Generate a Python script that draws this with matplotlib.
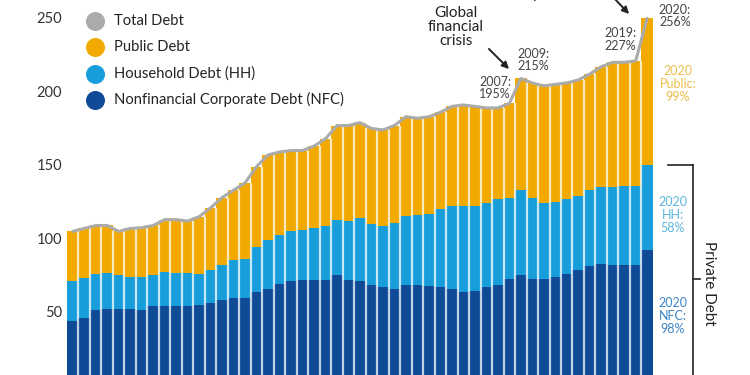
import numpy as np
import matplotlib
matplotlib.use("Agg")
import matplotlib.pyplot as plt

plt.rcParams['font.family'] = ['Lato', 'DejaVu Sans']

years = list(range(1970, 2021))

# debt as % of GDP
nfc = [50, 52, 57.5, 58.5, 58.5, 58.5, 57.5, 60, 60, 60,
       60, 61, 62, 64, 65.5, 66, 69.5, 72, 75.5, 77.5,
       78, 78, 78, 81, 78, 77, 74.5, 73.5, 72, 74.5,
       74.5, 74, 73.5, 72, 70, 70.5, 73.5, 74.5, 78.5, 81,
       78.5, 78.5, 80, 82, 84.5, 87.5, 89, 88, 88, 88, 98]
household = [27, 27, 24.5, 24, 22.5, 21.5, 22.5, 21.5, 23.5, 23,
             22.5, 21, 23, 24, 26, 26.5, 31, 33, 33, 33.5,
             34, 35, 36.5, 38, 40, 43, 41.5, 41, 44.5, 47,
             47.5, 49, 52.5, 56, 58, 57.5, 56.5, 58.5, 55.5, 58,
             55, 52, 51, 51, 50.5, 51.5, 52.5, 53.5, 54, 54, 58]
public = [34, 34, 33, 32.5, 30, 33, 33.5, 33.5, 35.5, 36,
          35.5, 39, 42, 46, 47.5, 51.5, 54.5, 58, 56.5, 55,
          54, 56, 59.5, 64, 65, 65, 65, 65.5, 66.5, 67.5,
          66, 66, 66, 68, 69, 68, 65, 62, 64, 76,
          78.5, 79.5, 80, 79, 79, 79, 81.5, 84.5, 84, 85, 100]
y_ticks = [50, 100, 150, 200, 250]

c_nfc = '#0E4A96'
c_hh = '#189DDB'
c_pub = '#F2A900'
c_tot = '#ABABAB'

nfc = np.array(nfc)
household = np.array(household)
public = np.array(public)
total = nfc + household + public
x = np.arange(len(years))

fig = plt.figure(figsize=(7.5, 3.75), dpi=100)
ax = fig.add_axes([0, 0, 1, 1])

ax.bar(x, nfc, width=1.0, color=c_nfc, linewidth=0)
ax.bar(x, household, width=1.0, bottom=nfc, color=c_hh, linewidth=0)
ax.bar(x, public, width=1.0, bottom=nfc + household, color=c_pub, linewidth=0)

# pale separators between bars
sep_top = np.minimum(total[:-1], total[1:])
ax.vlines(x[:-1] + 0.5, 0, sep_top, color='white', alpha=0.75, lw=1.6)

ax.plot(x, total, color=c_tot, lw=2.2, solid_capstyle='round')

ax.set_xlim(-6.33, 58.95)
ax.set_ylim(13.3, 268.4)
ax.axis('off')

for v in y_ticks:
    ax.text(-0.93, v + 5.3, str(v), ha='right', va='center', fontsize=10.5, color='#333333')


def px(xp, yp):
    return (xp / 750, 1 - yp / 375)


# legend
legend_items = [('Total Debt', c_tot), ('Public Debt', c_pub),
                ('Household Debt (HH)', c_hh), ('Nonfinancial Corporate Debt (NFC)', c_nfc)]
for k, (name, col) in enumerate(legend_items):
    yy = 21 + k * 26.3
    ax.scatter(*px(95, yy), s=160, color=col, transform=ax.transAxes, clip_on=False, zorder=5)
    ax.text(*px(114, yy), name, transform=ax.transAxes, ha='left', va='center',
            fontsize=10.6, color='#222222')

# point labels
lab_kw = dict(textcoords='offset points', ha='center', va='center', fontsize=9,
              color='#444444', linespacing=1.05)
ax.annotate('2007:\n195%', xy=(37, total[37]), xytext=(-2, 14.4), **lab_kw)
ax.annotate('2009:\n215%', xy=(39, total[39]), xytext=(8.8, 13.3), **lab_kw)
ax.annotate('2019:\n227%', xy=(49, total[49]), xytext=(-11.3, 15.4), **lab_kw)
ax.annotate('2020:\n256%', xy=(50, total[50]), xytext=(20, 1.7), **lab_kw)

ax.text(*px(456, 27), 'Global\nfinancial\ncrisis', transform=ax.transAxes, ha='center',
        va='center', fontsize=11, color='#222222', linespacing=1.0)
ax.annotate('', xy=px(511, 71), xytext=px(487, 47), xycoords='axes fraction',
            textcoords='axes fraction',
            arrowprops=dict(arrowstyle='-|>', color='#222222', lw=1.4, mutation_scale=10))
ax.text(*px(565, 1), 'COVID-19\npandemic', transform=ax.transAxes, ha='center',
        va='bottom', fontsize=11, color='#222222', linespacing=1.0)
ax.annotate('', xy=px(631, 16), xytext=px(612, -4), xycoords='axes fraction',
            textcoords='axes fraction',
            arrowprops=dict(arrowstyle='-|>', color='#222222', lw=1.4, mutation_scale=10))

# 2020 breakdown
ax.text(*px(678, 84), '2020\nPublic:\n99%', transform=ax.transAxes, ha='center', va='center',
        fontsize=9, color='#EDBE4C', linespacing=1.1)
ax.text(*px(673, 215), '2020\nHH:\n58%', transform=ax.transAxes, ha='center', va='center',
        fontsize=9, color='#5DB6DC', linespacing=1.1)
ax.text(*px(673, 316), '2020\nNFC:\n98%', transform=ax.transAxes, ha='center', va='center',
        fontsize=9, color='#3C85C6', linespacing=1.1)

# private debt bracket
bx, by = px(693, 165)
ax.plot([px(668, 0)[0], bx], [by, by], color='#222222', lw=1.2, transform=ax.transAxes,
        clip_on=False)
ax.plot([bx, bx], [by, px(0, 380)[1]], color='#222222', lw=1.2, transform=ax.transAxes,
        clip_on=False)
tx, ty = px(700, 279)
ax.plot([bx, tx], [ty, ty], color='#222222', lw=1.2, transform=ax.transAxes, clip_on=False)
ax.text(*px(709, 283), 'Private Debt', transform=ax.transAxes, rotation=-90, ha='center',
        va='center', fontsize=11, color='#222222')

fig.savefig('out.png', dpi=100)
